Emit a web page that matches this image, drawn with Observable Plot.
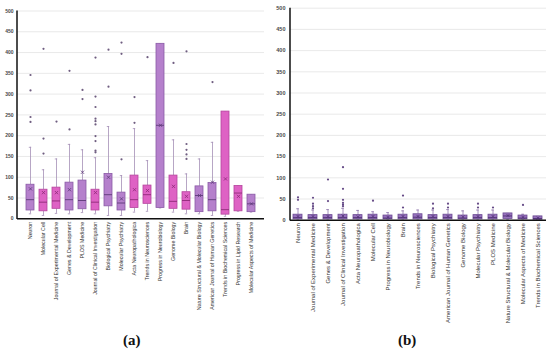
<!DOCTYPE html>
<html><head><meta charset="utf-8">
<script src="https://cdn.jsdelivr.net/npm/d3@7"></script>
<script src="https://cdn.jsdelivr.net/npm/@observablehq/plot@0.6"></script>
<style>
body{margin:0;background:#fff;width:550px;height:354px;overflow:hidden;position:relative;font-family:"Liberation Sans",Arial,sans-serif}
#a{position:absolute;left:0;top:0}
#b{position:absolute;left:275px;top:0}
.cap{position:absolute;top:332px;font:bold 15px "Liberation Serif","DejaVu Serif",serif;color:#111}
</style></head><body>
<div id="a"></div><div id="b"></div>
<div class="cap" style="left:123px">(a)</div>
<div class="cap" style="left:398px">(b)</div>
<script>
// ---------- Panel (a) ----------
const catsA = ["Neuron","Molecular Cell","Journal of Experimental Medicine","Genes & Development","PLOS Medicine","Journal of Clinical Investigation","Biological Psychiatry","Molecular Psychiatry","Acta Neuropathologica","Trends in Neurosciences","Progress in Neurobiology","Genome Biology","Brain","Nature Structural & Molecular Biology","American Journal of Human Genetics","Trends in Biochemical Sciences","Progress in Lipid Research","Molecular Aspects of Medicine"];
const q1A   = [20, 18, 24, 20, 23, 20, 30, 20, 26, 36, 26, 24, 22, 16, 18, 10, 18, 16];
const medA  = [46, 40, 43, 46, 44, 40, 58, 38, 46, 58, 225, 42, 44, 56, 46, 22, 62, 36];
const q3A   = [82, 70, 75, 87, 92, 70, 108, 63, 104, 80, 421, 104, 64, 78, 86, 258, 79, 58];
const loA   = [12, 8, 13, 12, 15, 12, 8, 8, 16, 18, 26, 16, 12, 12, 8, 6, 18, 16];
const hiA   = [172, 118, 144, 179, 166, 147, 222, 104, 217, 140, 421, 190, 108, 144, 184, 258, 79, 58];
const meanA = [72, 63, 63, 70, 112, 63, 100, 48, 70, 68, 225, 78, 54, 56, 88, 96, 54, 36];
const outA  = [[346,309,245,233],[409,193,157],[234],[356,215],[310,288],[388,294,269,241,235,227,199,187,164,160],[407,318],[424,397,143],[293,231],[389],[],[375],[403,180,166,155,144],[],[329],[],[],[]];
const pinkA = ["Molecular Cell","Journal of Experimental Medicine","Journal of Clinical Investigation","Acta Neuropathologica","Trends in Neurosciences","Genome Biology","Brain","Trends in Biochemical Sciences","Progress in Lipid Research"];

// ---------- Panel (b) ----------
const catsB = ["Neuron","Journal of Experimental Medicine","Genes & Development","Journal of Clinical Investigation","Acta Neuropathologica","Molecular Cell","Progress in Neurobiology","Brain","Trends in Neurosciences","Biological Psychiatry","American Journal of Human Genetics","Genome Biology","Molecular Psychiatry","PLOS Medicine","Nature Structural & Molecular Biology","Molecular Aspects of Medicine","Trends in Biochemical Sciences"];
const q1B   = [2, 2, 2, 2, 2, 2, 2, 2, 2, 2, 2, 2, 2, 2, 3, 2, 1];
const medB  = [6, 6, 6, 6, 6, 6, 5, 6, 7, 6, 6, 5, 6, 6, 10, 5, 4];
const q3B   = [13, 12, 12, 13, 12, 13, 11, 13, 14, 12, 13, 11, 12, 13, 16, 11, 9];
const loB   = [0, 0, 0, 0, 0, 0, 0, 0, 0, 0, 0, 0, 0, 0, 1, 0, 0];
const hiB   = [27, 24, 25, 28, 23, 20, 18, 22, 24, 24, 25, 22, 24, 24, 16, 14, 9];
const meanB = [9, 9, 9, 10, 8, 9, 7, 9, 9, 9, 9, 8, 9, 9, 11, 7, 5];
const outB  = [[54,48],[53,39,33,28],[96,45],[125,74,48,41,37,33],[],[46],[],[58,30],[],[39,28],[39,30],[],[39,30],[30],[],[36],[]];

const yTicks = [0,50,100,150,200,250,300,350,400,450,500];

function panel(cats, q1, med, q3, lo, hi, mean, outs, cfg) {
  const rows = cats.map((c, i) => ({cat: c, q1: q1[i], med: med[i], q3: q3[i], lo: lo[i], hi: hi[i], mean: mean[i]}));
  const outRows = cats.flatMap((c, i) => outs[i].map(v => ({cat: c, v})));
  const chart = Plot.plot({
    width: cfg.width, height: cfg.height,
    marginTop: cfg.mt, marginBottom: cfg.mb, marginLeft: cfg.ml, marginRight: cfg.mr,
    style: {fontFamily: "'Liberation Sans', Arial, sans-serif", background: "transparent", overflow: "visible"},
    x: {domain: cats, paddingInner: cfg.pad, paddingOuter: cfg.pad / 2},
    y: {domain: [0, 500]},
    color: {type: "identity"},
    marks: [
      Plot.gridY(yTicks, {stroke: "#e3e3e3", strokeOpacity: 1, strokeWidth: 0.8}),
      Plot.ruleX(rows, {x: "cat", y1: "lo", y2: "q1", stroke: cfg.whisk, strokeWidth: 0.8}),
      Plot.ruleX(rows, {x: "cat", y1: "q3", y2: "hi", stroke: cfg.whisk, strokeWidth: 0.8}),
      Plot.tickY(rows, {x: "cat", y: "hi", stroke: cfg.whisk, strokeWidth: 0.8, insetLeft: cfg.capInset, insetRight: cfg.capInset}),
      Plot.tickY(rows, {x: "cat", y: "lo", stroke: cfg.whisk, strokeWidth: 0.8, insetLeft: cfg.capInset, insetRight: cfg.capInset}),
      Plot.barY(rows, {x: "cat", y1: "q1", y2: "q3", fill: d => cfg.fill(d.cat), stroke: d => cfg.stroke(d.cat), strokeWidth: 0.8}),
      Plot.tickY(rows, {x: "cat", y: "med", stroke: d => cfg.medStroke(d.cat), strokeWidth: 0.9}),
      Plot.dot(rows, {x: "cat", y: "mean", symbol: "times", r: cfg.meanR, stroke: d => cfg.medStroke(d.cat), strokeWidth: 0.8}),
      Plot.dot(outRows, {x: "cat", y: "v", r: cfg.dotR, fill: cfg.dotFill, stroke: "none"}),
      Plot.ruleY([0], {stroke: "#111", strokeWidth: 1.5}),
      Plot.axisY(yTicks, {tickSize: 0, tickPadding: cfg.ytp, fontSize: cfg.yfs, fontWeight: "bold", fill: "#4a4a4a", label: null}),
      Plot.axisX({tickRotate: -90, tickSize: 0, tickPadding: 3, fontSize: cfg.xfs, fill: "#333", label: null})
    ]
  });
  // y axis line along the left edge of the plot area
  const ys = chart.scale("y");
  d3.select(chart).append("line")
    .attr("x1", cfg.ml).attr("x2", cfg.ml)
    .attr("y1", ys.range[0] + 0.75).attr("y2", ys.range[1])
    .attr("stroke", "#111").attr("stroke-width", 1.5);
  return chart;
}

const isPink = c => pinkA.includes(c);
document.getElementById("a").append(panel(catsA, q1A, medA, q3A, loA, hiA, meanA, outA, {
  width: 275, height: 320, mt: 10.5, mb: 101.7, ml: 17, mr: 11, pad: 0.36,
  whisk: "#a48fb6", capInset: 2.8, meanR: 1.6, dotR: 1.1, dotFill: "#6f5d80",
  fill: c => isPink(c) ? "#de62c4" : "#b580cc",
  stroke: c => isPink(c) ? "#b5449d" : "#8a5aa6",
  medStroke: c => isPink(c) ? "#8e2a78" : "#5e3a78",
  ytp: 4, yfs: 5, xfs: 5.3
}));
document.getElementById("b").append(panel(catsB, q1B, medB, q3B, loB, hiB, meanB, outB, {
  width: 275, height: 335, mt: 7.7, mb: 115.3, ml: 15, mr: 4, pad: 0.37,
  whisk: "#8d74ab", capInset: 3.2, meanR: 1.4, dotR: 1.1, dotFill: "#654a86",
  fill: c => "#9772bd",
  stroke: c => "#6c4b93",
  medStroke: c => "#4e2f73",
  ytp: 5, yfs: 5.5, xfs: 6
}));
</script>
</body></html>
